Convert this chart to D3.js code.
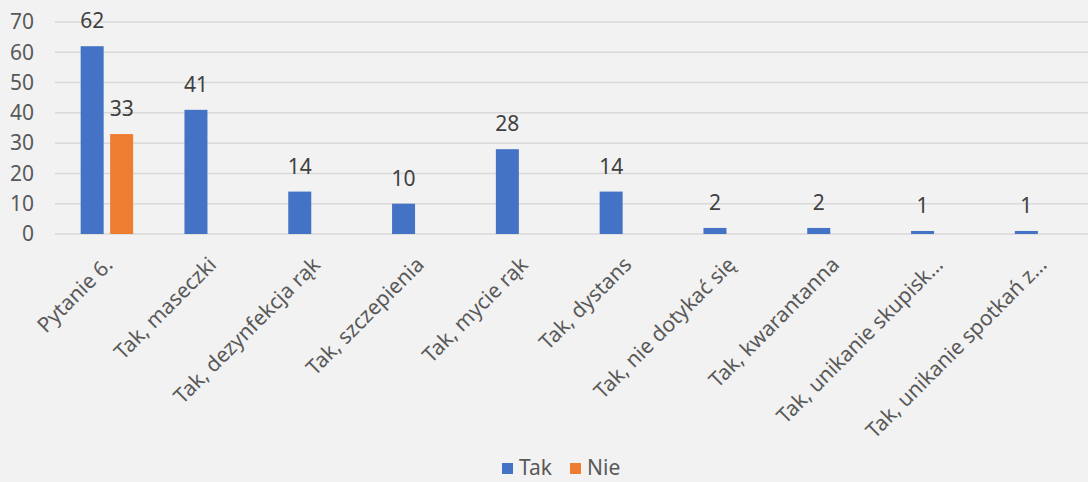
<!DOCTYPE html>
<html>
<head>
<meta charset="utf-8">
<script src="https://cdn.jsdelivr.net/npm/d3@7"></script>
<style>
  body { margin: 0; background: #f2f2f2; }
  svg { display: block; font-family: "Noto Sans", "Open Sans", sans-serif; }
</style>
</head>
<body>
<div id="chart"></div>
<script>
const categories = [
  "Pytanie 6.", "Tak, maseczki", "Tak, dezynfekcja rąk", "Tak, szczepienia",
  "Tak, mycie rąk", "Tak, dystans", "Tak, nie dotykać się", "Tak, kwarantanna",
  "Tak, unikanie skupisk…", "Tak, unikanie spotkań z…"
];
const seriesNames = ["Tak", "Nie"];
const takValues = [62, 41, 14, 10, 28, 14, 2, 2, 1, 1];
const nieValues = [33, null, null, null, null, null, null, null, null, null];
const yTicks = [0, 10, 20, 30, 40, 50, 60, 70];
const colors = ["#4472c4", "#ed7d31"];

const width = 1088, height = 482;
const margin = { left: 55, right: -5, top: 22, bottom: 248 };

const svg = d3.select("#chart").append("svg")
  .attr("width", width)
  .attr("height", height);

const x = d3.scaleBand()
  .domain(categories)
  .range([margin.left, width - margin.right]);

const x1 = d3.scaleBand()
  .domain(seriesNames)
  .range([0, x.bandwidth()])
  .paddingInner(0.22)
  .paddingOuter(0.87);

const y = d3.scaleLinear()
  .domain([0, 70])
  .range([height - margin.bottom, margin.top]);

// gridlines
svg.append("g")
  .selectAll("line")
  .data(yTicks)
  .join("line")
  .attr("x1", margin.left)
  .attr("x2", width)
  .attr("y1", d => y(d))
  .attr("y2", d => y(d))
  .attr("stroke", "#d9d9d9")
  .attr("stroke-width", 1.5);

// y axis labels
svg.append("g")
  .selectAll("text")
  .data(yTicks)
  .join("text")
  .attr("x", 34)
  .attr("y", d => y(d))
  .attr("dy", "0.35em")
  .attr("text-anchor", "end")
  .attr("fill", "#595959")
  .attr("font-size", 21)
  .text(d => d);

const rows = categories.map((c, i) => ({ cat: c, vals: [takValues[i], nieValues[i]] }));

const groups = svg.append("g")
  .selectAll("g")
  .data(rows)
  .join("g")
  .attr("transform", d => `translate(${x(d.cat)},0)`);

const cells = d => d.vals
  .map((v, j) => ({ key: seriesNames[j], v, color: colors[j] }))
  .filter(e => e.v != null);

groups.selectAll("rect")
  .data(cells)
  .join("rect")
  .attr("x", d => x1(d.key))
  .attr("width", x1.bandwidth())
  .attr("y", d => y(d.v))
  .attr("height", d => y(0) - y(d.v))
  .attr("fill", d => d.color);

groups.selectAll("text.val")
  .data(cells)
  .join("text")
  .attr("class", "val")
  .attr("x", d => x1(d.key) + x1.bandwidth() / 2)
  .attr("y", d => y(d.v) - 18)
  .attr("text-anchor", "middle")
  .attr("fill", "#404040")
  .attr("font-size", 21)
  .text(d => d.v);

// category labels
svg.append("g")
  .selectAll("text")
  .data(categories)
  .join("text")
  .attr("transform", d => `translate(${x(d) + x.bandwidth() / 2 + 7},${y(0) + 32}) rotate(-45)`)
  .attr("text-anchor", "end")
  .attr("fill", "#595959")
  .attr("font-size", 21)
  .text(d => d);

// legend
const legend = svg.append("g").attr("transform", "translate(502,468)");
const items = [
  { name: seriesNames[0], color: colors[0], dx: 0 },
  { name: seriesNames[1], color: colors[1], dx: 68 }
];
const li = legend.selectAll("g").data(items).join("g")
  .attr("transform", d => `translate(${d.dx},0)`);
li.append("rect")
  .attr("x", 0).attr("y", -5)
  .attr("width", 11).attr("height", 11)
  .attr("fill", d => d.color);
li.append("text")
  .attr("x", 17)
  .attr("dy", "0.35em")
  .attr("fill", "#595959")
  .attr("font-size", 21)
  .text(d => d.name);
</script>
</body>
</html>
